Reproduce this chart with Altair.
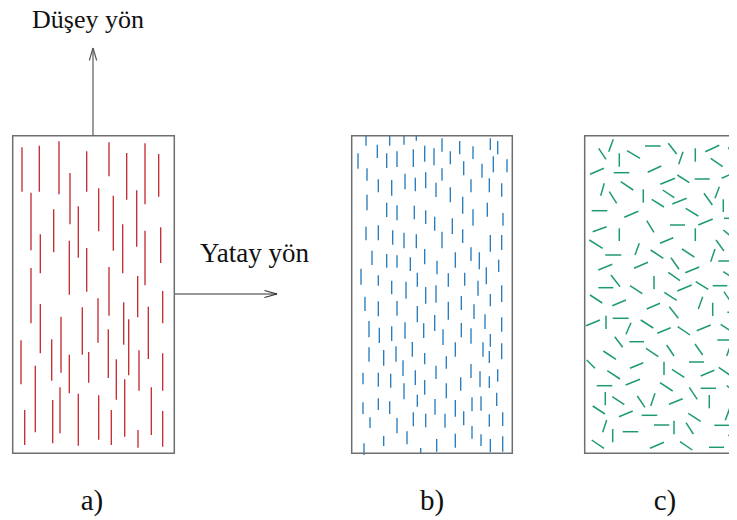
import altair as alt
import pandas as pd

# ---------------- data (image-pixel units) ----------------
# panel a: long vertical fibres (x, top y, bottom y)
A_X = [22, 39.3, 59, 86.7, 109, 126.7, 145, 158.7, 31, 70, 98.7, 113.3, 136.7, 53.7, 78.3, 40.3,
       122.7, 145, 160.7, 69.3, 86.7, 31, 109, 137.7, 162.7, 40.3, 61, 82.3, 98, 123.7, 148.3, 21,
       51.7, 108.3, 128.7, 69.3, 88.7, 139, 162.7, 35.3, 116.3, 124.7, 60, 78.3, 98.7, 24.7, 52.7,
       111.3, 138, 151.3, 162.7]
A_Y1 = [147.3, 145.7, 141.3, 151.3, 142.3, 153, 143.3, 154, 192.7, 173, 188.3, 195.7, 190.3, 209.3,
        206.3, 234.3, 224.3, 230.7, 227.3, 240.7, 248, 268, 267, 276, 291, 304, 316.7, 307.3, 298.3,
        302.3, 306.7, 340.3, 339.3, 329.3, 319.3, 354.7, 352, 350.3, 353.3, 365.7, 359.3, 379.3,
        387.3, 393.7, 395.3, 410, 400, 410, 430, 387.3, 411]
A_Y2 = [191.7, 191.7, 194.3, 191.7, 176.3, 199.7, 204.3, 196.7, 250.3, 224.3, 231.3, 250.7, 246.7,
        252.3, 257.7, 273.3, 273.3, 285.3, 263, 294.7, 291.7, 323.3, 315.7, 317.3, 323.3, 353.3,
        372.7, 354.7, 342.7, 344.7, 359, 384.3, 380.7, 378, 375.3, 393.3, 382.7, 390.7, 390.7,
        432.3, 399.7, 436.7, 433.3, 445.7, 439.7, 445, 443.3, 445, 447.7, 435, 446.7]

# panel b: short vertical fibres (x, top y, bottom y)
B_X = [366, 389.7, 404, 416.3, 442, 459.7, 490.3, 497.7, 377.3, 424.7, 434, 473, 358, 386.7, 397,
       413.3, 450.3, 463.7, 482, 493.3, 507, 367, 442, 378.3, 391.7, 405, 415.3, 425.7, 436, 471,
       489.3, 501.7, 450.3, 367, 462.7, 386.7, 397, 414.3, 425.7, 487.3, 473, 434.7, 452.3, 503,
       366, 378.3, 392.7, 404, 416.3, 442, 462.7, 490.3, 501.7,
       372, 386.7, 397, 410.3, 424.7, 437, 455.3, 471, 479.3, 498.7, 361, 378.3, 391.7, 406, 417.3,
       425.7, 436, 448.3, 464.7, 478, 486.3, 501.7, 365, 378.3, 397, 417.3, 448.3, 461.3, 474,
       490.3, 501.7, 485, 434.7, 369, 379.3, 391.7, 405, 423.7, 443, 461.3, 471, 490.3, 412.3,
       455.3, 483, 501.7,
       369, 383.7, 396, 424.7, 489.3, 403, 436, 446.3, 471, 363, 378.3, 390.7, 415.3, 480, 489.3,
       497.7, 404, 424.7, 446.3, 460.7, 363, 378.3, 389.7, 417.3, 435, 455.3, 472, 481, 496.7,
       370, 397, 413.3, 425.7, 445, 463.7, 489.3, 502.7, 407, 472, 383.7, 436.7, 455.3, 481,
       490.3, 502.7, 364, 420.7]
B_Y1 = [135.7, 135.7, 135.7, 135.7, 138.3, 141, 138.3, 141, 144.7, 145.7, 148.3, 146.3, 153.3,
        153.3, 151.3, 149.3, 151.3, 161.3, 163.7, 156.3, 159.3, 168.3, 168.3, 179.3, 180, 173.7,
        177.7, 172.3, 182.7, 179.3, 178.3, 183.3, 187.3, 194.7, 196.7, 202.7, 205.3, 205.7, 210.3,
        202.7, 209.3, 216.7, 218.3, 213,
        226.7, 225.3, 230.3, 232.7, 234.3, 231.7, 229.3, 235, 235,
        250.7, 254, 255.3, 257.3, 249, 260.7, 252.3, 247.3, 252.3, 259.7, 268.7, 275.3, 280.7,
        281.7, 272.7, 287, 285.3, 273.3, 272.7, 280.7, 267.3, 285.3, 296.7, 301.3, 301, 306,
        301.7, 296, 304.3, 294, 317.3, 314.3, 315, 321, 327.7, 326.3, 322.3, 323.3, 329.3, 323,
        328.3, 334, 342, 342.3, 342.3, 343.3,
        347.3, 350, 346.3, 353, 351, 360.3, 365.7, 356.3, 364, 372.7, 372.7, 373.7, 370.3, 371.3,
        376.3, 369.3, 383.3, 380, 383.3, 377.3, 402.3, 398.3, 401.3, 394.7, 399, 400, 397.3,
        396.3, 392.7, 417.3, 418, 412.3, 413.7, 413.7, 411.3, 414.3, 412.3, 431.3, 426, 436,
        439, 433.7, 434.3, 439, 436.3, 443.3, 448]
B_Y2 = [145.7, 145.7, 144.7, 140.7, 151.7, 154.3, 150, 154.3, 158, 161.7, 165.3, 159, 168.7, 168,
        167, 167, 164.3, 175.3, 177.7, 172.3, 172.3, 180.7, 180.7, 192.3, 195.7, 189.3, 191.3,
        188.3, 197, 192.3, 192.3, 196.7, 202.3, 210.3, 213.7, 217, 220.3, 219.3, 224, 216.7,
        225.7, 230.7, 234, 225.7,
        240.3, 240.3, 244.7, 248.3, 248.3, 248.3, 243, 251.7, 250,
        265, 267.7, 267.7, 271, 264.3, 274.3, 267.7, 261, 269.3, 272, 284.7, 285.7, 294.3, 298.7,
        286.7, 303.7, 302.7, 286.7, 285.7, 295.7, 284.3, 302, 311, 316.3, 315.7, 322.3, 319.7,
        310, 319, 306.3, 331.7, 329, 331, 337.3, 343, 341, 338.7, 338, 345, 337.3, 343.7, 346.7,
        356.7, 356.7, 356.7, 359.3,
        361.7, 365.7, 361.7, 364.3, 363, 376, 379, 368.7, 378, 384.3, 386.7, 387.7, 385, 387,
        388, 381.7, 399.3, 394.7, 398.3, 390.7, 414, 410, 414, 406.7, 414.7, 416.7, 411.3,
        410.7, 406, 428, 433.3, 426.3, 427.3, 427.7, 425.3, 426.7, 426, 444.3, 438.7, 446,
        451.7, 447.7, 446, 452.3, 451.7, 455, 453.3]

# panel c: randomly oriented fibres (x1, y1, x2, y2)
C_X1 = [598.7, 608.7, 645, 668.3, 678.7, 695.3, 705.3, 728.3, 619.3, 627, 710.7, 590, 613.7, 647.7,
        677.3, 694.7, 721.7, 660.3, 600.7, 620.7, 609.3, 643.3, 662.7, 704, 719.3, 651.7, 672.3,
        730, 723.3, 591.7, 624.3, 685.7, 698.3, 724, 646.7, 670, 592.7, 619.3, 695.3, 723.3,
        589.3, 660, 716, 605.3, 635, 650.7, 682, 710.7, 718.3, 598.3, 634, 671, 685.3, 723.3,
        611, 668.3, 654, 695.7, 712.7, 598.3, 630, 677.3, 590, 664.3, 724, 612.3, 646.7, 698.3,
        669.3, 712.7, 727.3, 586, 606, 612.7, 626, 640.7, 657.3, 677.7, 696.7, 720.7, 614.7,
        629.3, 717.3,
        666.7, 646, 695, 726.7, 603.3, 586.7, 689, 630, 664, 607.3, 672, 700.7, 718.7, 596.7,
        625.7, 660, 689.3, 700.7, 726.7, 605.3, 612.3, 637.3, 650.7, 669, 709.3, 592.7, 619,
        641.7, 688.3, 725.3, 602.7, 654, 674, 686, 714.3, 612.7, 622.7, 728.3, 591.7, 650, 680,
        709]
C_Y1 = [148.3, 151.7, 146, 143.3, 164.3, 148.3, 151.7, 147.3, 153.3, 150.7, 158.3, 174.3, 172.7,
        172.3, 175, 179, 178.3, 184.3, 195.7, 181.7, 191.7, 189.3, 190, 193.3, 186.7, 199.3, 204,
        198.3, 199.3, 210.7, 217.3, 208.3, 225, 218.3, 220.7, 225, 231.7, 228.3, 228.3, 230,
        240, 243.3, 240, 255, 255, 250, 249, 261.7, 261, 270, 268.3, 257.7, 272.7, 271.7,
        275, 272.3, 276, 281.7, 285.7, 287.7, 285.7, 291, 295, 292.3, 291.7, 305.7, 309, 309,
        306.7, 302.7, 312.3, 325.7, 315.7, 318.3, 334.3, 320, 333.3, 326.7, 330.7, 324.3, 336.7,
        341.7, 340,
        345, 348.3, 344, 356, 351, 360, 362, 368.3, 361.7, 370.7, 369.3, 376, 367.3, 385.7, 385,
        382.7, 387.3, 388.3, 385.7, 392, 396.7, 396, 406, 404.3, 395, 406, 416.7, 415.3, 413.3,
        420.3, 432.3, 425, 420.7, 422.7, 425.3, 429, 431.7, 435, 440, 448.3, 441.7, 447.3]
C_X2 = [606, 613.3, 660.7, 676.7, 683, 695.3, 719.3, 735, 619.3, 640, 722.7, 604, 629.3, 661.3,
        689.3, 709.7, 735, 675, 604.3, 633.3, 616.7, 643.3, 674.3, 712.3, 715, 664, 686.7, 736.7,
        723.3, 607.3, 638.3, 698.3, 712.7, 736.7, 654, 685, 606.7, 619.3, 695.3, 733.3,
        602.7, 673.3, 724, 621.3, 639.3, 663.3, 694.3, 715, 734, 612.3, 648, 679, 699.3, 736,
        620, 680, 654, 708.3, 727.3, 613.3, 642.3, 691.7, 602.3, 676.7, 731.7, 626, 660, 702.7,
        678.3, 712.7, 736.7, 600, 606, 628.7, 631, 653.3, 670.7, 690, 710.7, 733.3, 622.7,
        644, 731.7,
        674, 658.3, 702.7, 731, 616, 595, 704, 643.3, 664, 620, 684.3, 714.3, 730.7, 612.3,
        640, 672.7, 697.3, 716, 736.7, 605.3, 624.3, 645, 655, 682.7, 709.3, 605, 632.7,
        657.3, 700.7, 729.7, 606.7, 669.3, 674, 693.3, 730, 612.7, 638.3, 736.7, 604, 664, 692.3,
        724]
C_Y2 = [159.3, 139.3, 146, 154, 151.7, 161.7, 145.3, 158.3, 166.7, 158.3, 166.7, 168.3, 172.7,
        166, 182.7, 179, 172.3, 178.3, 183.3, 190, 203.3, 202.7, 197.7, 205, 198.3, 207, 198.3,
        195.3, 212, 210.7, 211.3, 216, 219, 218.3, 232.3, 225, 226.7, 241, 241, 238.3,
        248.3, 237.7, 251, 255, 243.3, 258.3, 257, 249, 261, 264.3, 262.3, 269.3, 267, 280,
        286.7, 280.7, 289.3, 289.3, 285.7, 287.7, 293.7, 285, 303, 300.3, 303.3, 300, 303.3,
        296.7, 318.3, 316, 312.3, 320, 329, 318.3, 322.7, 328, 327.7, 335, 325, 332.7, 347.3,
        341.7, 340,
        356, 356.7, 355, 344, 359.3, 368.3, 362, 362.7, 375, 379, 377.3, 370.3, 375.7, 385.7,
        379.3, 391, 399.3, 388.3, 392.7, 405.3, 404.7, 407.3, 393.3, 398.7, 408.3, 414, 411,
        415.3, 421.3, 408.3, 420, 425, 434.3, 434, 425.3, 442.3, 431.7, 441, 448.3, 442.3, 450,
        447.3]

# panel frames (panel c runs past the right edge of the picture)
BOX_X1 = [12.7, 351.7, 584.7]
BOX_X2 = [174.3, 512.3, 760]
BOX_Y1 = [135.7, 135.7, 135.7]
BOX_Y2 = [453.3, 453.3, 453.3]

# direction arrows: shaft + two head strokes
VARROW_X1 = [93, 93, 93]
VARROW_Y1 = [135.7, 48, 48]
VARROW_X2 = [93, 89.3, 96.7]
VARROW_Y2 = [48, 60.5, 60.5]
HARROW_X1 = [175, 277, 277]
HARROW_Y1 = [294, 294, 294]
HARROW_X2 = [277, 264.5, 264.5]
HARROW_Y2 = [294, 290.5, 297.5]

# texts
LABEL_TEXT = ["Düşey yön", "Yatay yön"]
LABEL_X = [32, 200]
LABEL_Y = [28, 262]
LABEL_SIZE = [26, 27]
PANEL_TEXT = ["a)", "b)", "c)"]
PANEL_X = [92, 432, 665]
PANEL_Y = [510, 510, 510]

# ---------------- chart ----------------
W, H = 721, 512
xs = alt.Scale(domain=[8, 8 + W], nice=False, zero=False)
ys = alt.Scale(domain=[8 + H, 8], nice=False, zero=False)


def seg_layer(df, color, width):
    return alt.Chart(df).mark_rule(color=color, strokeWidth=width, clip=True).encode(
        x=alt.X("x:Q", scale=xs, axis=None),
        x2="x2:Q",
        y=alt.Y("y:Q", scale=ys, axis=None),
        y2="y2:Q",
    )


df_a = pd.DataFrame({"x": A_X, "x2": A_X, "y": A_Y1, "y2": A_Y2})
df_b = pd.DataFrame({"x": B_X, "x2": B_X, "y": B_Y1, "y2": B_Y2})
df_c = pd.DataFrame({"x": C_X1, "x2": C_X2, "y": C_Y1, "y2": C_Y2})
df_box = pd.DataFrame({"x": BOX_X1, "x2": BOX_X2, "y": BOX_Y1, "y2": BOX_Y2})
df_va = pd.DataFrame({"x": VARROW_X1, "x2": VARROW_X2, "y": VARROW_Y1, "y2": VARROW_Y2})
df_ha = pd.DataFrame({"x": HARROW_X1, "x2": HARROW_X2, "y": HARROW_Y1, "y2": HARROW_Y2})
df_lab = pd.DataFrame({"x": LABEL_X, "y": LABEL_Y, "t": LABEL_TEXT, "s": LABEL_SIZE})
df_pan = pd.DataFrame({"x": PANEL_X, "y": PANEL_Y, "t": PANEL_TEXT})

boxes = alt.Chart(df_box).mark_rect(
    fillOpacity=0, stroke="#6f6f6f", strokeWidth=1.5, clip=True
).encode(
    x=alt.X("x:Q", scale=xs, axis=None), x2="x2:Q",
    y=alt.Y("y:Q", scale=ys, axis=None), y2="y2:Q",
)

labels = alt.Chart(df_lab).mark_text(
    font="Liberation Serif", align="left", baseline="alphabetic", color="#111111"
).encode(
    x=alt.X("x:Q", scale=xs, axis=None), y=alt.Y("y:Q", scale=ys, axis=None), text="t:N",
    size=alt.Size("s:Q", scale=None, legend=None),
)

panels = alt.Chart(df_pan).mark_text(
    font="Liberation Serif", fontSize=29, align="center", baseline="alphabetic", color="#111111"
).encode(
    x=alt.X("x:Q", scale=xs, axis=None), y=alt.Y("y:Q", scale=ys, axis=None), text="t:N"
)

chart = alt.layer(
    seg_layer(df_a, "#c3262e", 1.3),
    seg_layer(df_b, "#1f78bd", 1.3),
    seg_layer(df_c, "#1f9a72", 1.5),
    boxes,
    seg_layer(df_va, "#5a5a5a", 1.2),
    seg_layer(df_ha, "#333333", 1.2),
    labels,
    panels,
).properties(
    width=W, height=H, autosize=alt.AutoSizeParams(type="none"), padding=0
).configure_view(stroke=None)

chart.save("out.html", embed_options={"renderer": "svg", "actions": False})
